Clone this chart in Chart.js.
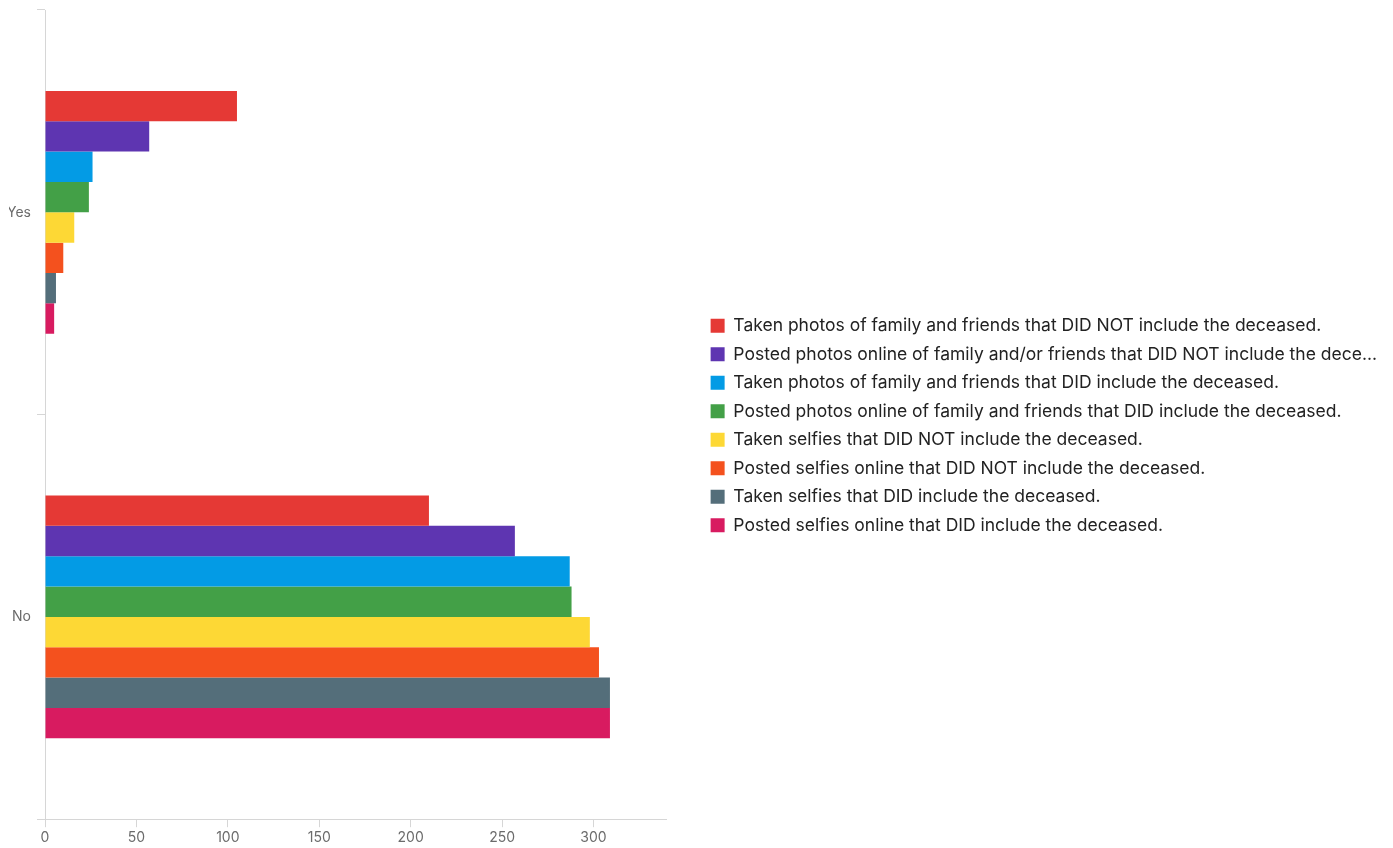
<!DOCTYPE html>
<html lang="en">
  <head>
    <meta charset="UTF-8" />
    <meta name="viewport" content="width=device-width, initial-scale=1.0" />
    <script src="https://cdn.jsdelivr.net/npm/chart.js"></script>
    <title>Photos at funerals</title>
    <style>
      body { margin: 0; background: #fff; }
      #wrap { width: 1393px; height: 848px; }
    </style>
  </head>
  <body>
    <div id="wrap">
      <canvas id="myChart"></canvas>
    </div>

    <script>
      // categories on the y axis
      const answers = ["Yes", "No"];

      // one series per activity, values are [Yes, No]
      const seriesNames = [
        "Taken photos of family and friends that DID NOT include the deceased.",
        "Posted photos online of family and/or friends that DID NOT include the dece...",
        "Taken photos of family and friends that DID include the deceased.",
        "Posted photos online of family and friends that DID include the deceased.",
        "Taken selfies that DID NOT include the deceased.",
        "Posted selfies online that DID NOT include the deceased.",
        "Taken selfies that DID include the deceased.",
        "Posted selfies online that DID include the deceased.",
      ];
      const takenPhotosNot = [105, 210];
      const postedPhotosNot = [57, 257];
      const takenPhotosDid = [26, 287];
      const postedPhotosDid = [24, 288];
      const takenSelfiesNot = [16, 298];
      const postedSelfiesNot = [10, 303];
      const takenSelfiesDid = [6, 309];
      const postedSelfiesDid = [5, 309];

      const xTicks = [0, 50, 100, 150, 200, 250, 300];
      const xMax = 340;

      const colors = ["#e53935", "#5e35b1", "#039be5", "#43a047", "#fdd835", "#f4511e", "#546e7a", "#d81b60"];
      const allValues = [
        takenPhotosNot, postedPhotosNot, takenPhotosDid, postedPhotosDid,
        takenSelfiesNot, postedSelfiesNot, takenSelfiesDid, postedSelfiesDid,
      ];

      const datasets = [];
      for (let i = 0; i < allValues.length; i++) {
        datasets.push({
          label: seriesNames[i],
          data: allValues[i],
          backgroundColor: colors[i],
          borderWidth: 0,
          categoryPercentage: 0.6,
          barPercentage: 1.0,
        });
      }

      const axisGray = "#d6d6d6";
      const font = "Inter, 'Noto Sans', sans-serif";

      // fixed width for the vertical axes, no half-label padding
      function fixAxis(scale, width) {
        scale.width = width;
        scale.paddingTop = 0;
        scale.paddingBottom = 0;
      }

      const config = {
        type: "bar",
        data: { labels: answers, datasets: datasets },
        options: {
          indexAxis: "y",
          responsive: true,
          maintainAspectRatio: false,
          animation: false,
          layout: { padding: { top: 10, left: 9, right: 6, bottom: 0 } },
          scales: {
            x: {
              min: 0,
              max: xMax,
              afterBuildTicks: (scale) => {
                scale.ticks = xTicks.map((v) => ({ value: v }));
              },
              grid: { drawOnChartArea: false, color: axisGray, tickLength: 8 },
              border: { color: axisGray },
              ticks: { color: "#6b6b6b", font: { family: font, size: 14 }, padding: 2 },
            },
            y: {
              grid: { drawOnChartArea: false, color: axisGray, tickLength: 8, offset: true },
              border: { color: axisGray },
              ticks: { color: "#6b6b6b", font: { family: font, size: 14 }, padding: 6 },
              afterFit: (scale) => fixAxis(scale, 36),
            },
            // empty strip between the plot and the legend
            gap: {
              type: "linear",
              axis: "y",
              position: "right",
              grid: { display: false },
              border: { display: false },
              ticks: { display: false },
              afterFit: (scale) => fixAxis(scale, 33),
            },
          },
          plugins: {
            legend: {
              position: "right",
              align: "center",
              maxWidth: 720,
              // empty title with negative padding nudges the centred items up a little
              title: { display: true, text: "", font: { size: 0 }, padding: { top: -7, bottom: 0 } },
              labels: {
                boxWidth: 14,
                boxHeight: 14,
                padding: 11,
                color: "#222",
                font: { family: font, size: 17.5 },
              },
            },
            tooltip: { enabled: false },
          },
        },
      };

      new Chart(document.getElementById("myChart"), config);
    </script>
  </body>
</html>
